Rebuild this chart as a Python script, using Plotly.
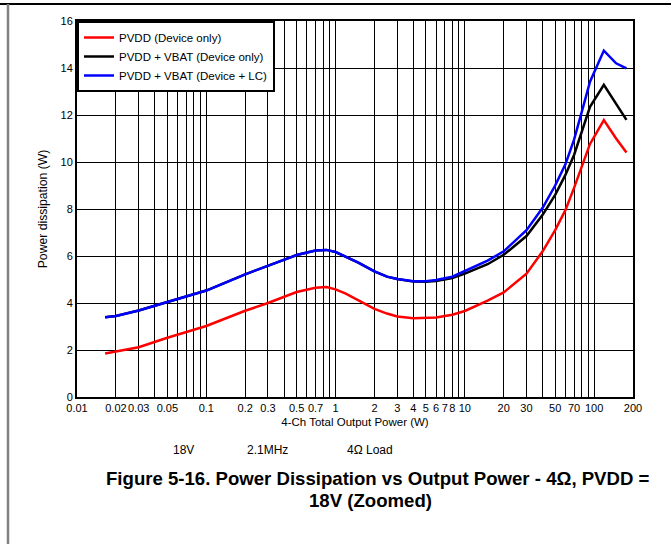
import numpy as np
import plotly.graph_objects as go

# ---- data ----
power_w = [0.0165, 0.02, 0.03, 0.05, 0.1, 0.2, 0.3, 0.5, 0.7, 0.85, 1, 1.2, 1.5, 2, 2.5, 3, 4, 5, 6, 8,
           10, 15, 20, 30, 40, 50, 60, 70, 80, 93, 119, 148, 178]

pvdd_dev = [1.85, 1.93, 2.12, 2.52, 3.02, 3.67, 4.0, 4.47, 4.65, 4.68, 4.58, 4.4, 4.12, 3.75, 3.55, 3.43, 3.35, 3.35, 3.38, 3.5,
            3.66, 4.1, 4.45, 5.25, 6.2, 7.1, 7.95, 8.9, 9.75, 10.77, 11.78, 11.0, 10.4]

pvdd_vbat_dev = [3.39, 3.45, 3.68, 4.04, 4.53, 5.22, 5.57, 6.04, 6.23, 6.26, 6.17, 5.98, 5.72, 5.35, 5.12, 5.02, 4.92, 4.9, 4.94, 5.06,
                 5.25, 5.65, 6.05, 6.85, 7.75, 8.6, 9.45, 10.3, 11.3, 12.35, 13.28, 12.45, 11.79]

pvdd_vbat_lc = [3.39, 3.45, 3.68, 4.04, 4.53, 5.22, 5.57, 6.04, 6.23, 6.26, 6.17, 5.98, 5.72, 5.35, 5.12, 5.02, 4.93, 4.93, 4.98, 5.12,
                5.35, 5.8, 6.2, 7.1, 8.05, 9.0, 9.9, 10.95, 12.1, 13.42, 14.74, 14.2, 13.98]

series_names = ["PVDD (Device only)", "PVDD + VBAT (Device only)", "PVDD + VBAT (Device + LC)"]
series_colors = ["#FF0000", "#000000", "#0000FF"]

x_tick_vals = [0.01, 0.02, 0.03, 0.05, 0.1, 0.2, 0.3, 0.5, 0.7, 1, 2, 3, 4, 5, 6, 7, 8, 10, 20, 30, 50, 70, 100, 200]
x_tick_text = ["0.01", "0.02", "0.03", "0.05", "0.1", "0.2", "0.3", "0.5", "0.7", "1", "2", "3", "4", "5", "6", "7", "8",
               "10", "20", "30", "50", "70", "100", "200"]
x_minor_vals = [m * 10.0 ** d for d in range(-2, 3) for m in range(1, 10) if m * 10.0 ** d <= 200]
y_tick_vals = [0, 2, 4, 6, 8, 10, 12, 14, 16]

FONT = "Arial, 'Liberation Sans', sans-serif"

fig = go.Figure()
for name, color, ys in zip(series_names, series_colors, [pvdd_dev, pvdd_vbat_dev, pvdd_vbat_lc]):
    fig.add_trace(go.Scatter(x=power_w, y=ys, mode="lines", name=name,
                             line=dict(color=color, width=2.5, shape="linear")))

fig.update_layout(
    width=671, height=544,
    margin=dict(l=77, r=38, t=21, b=147),
    paper_bgcolor="white", plot_bgcolor="white",
    font=dict(family=FONT, size=11, color="black"),
    showlegend=True,
    legend=dict(x=0, y=1, xanchor="left", yanchor="top", bgcolor="white",
                bordercolor="black", borderwidth=2, font=dict(size=11.5),
                itemwidth=30, tracegroupgap=0),
    xaxis=dict(type="log", range=[np.log10(0.01), np.log10(200)],
               tickmode="array", tickvals=x_tick_vals, ticktext=x_tick_text, tickangle=0,
               showgrid=True, gridcolor="#000000", gridwidth=1,
               minor=dict(tickmode="array", tickvals=x_minor_vals, showgrid=True,
                          gridcolor="#000000", gridwidth=1, ticks=""),
               showline=True, linecolor="black", linewidth=2, mirror=True,
               ticks="", zeroline=False,
               title=dict(text="4-Ch Total Output Power (W)", font=dict(size=11.5), standoff=5)),
    yaxis=dict(range=[0, 16], tickmode="array", tickvals=y_tick_vals,
               showgrid=True, gridcolor="#000000", gridwidth=1,
               showline=True, linecolor="black", linewidth=2, mirror=True,
               ticks="", zeroline=False,
               title=dict(text="Power dissipation (W)", font=dict(size=12.2), standoff=10)),
)

# caption texts below the chart
fig.add_annotation(text="18V", xref="paper", yref="paper", x=(183 - 77) / 556, y=(397 - 450) / 376,
                   showarrow=False, font=dict(size=12), xanchor="center", yanchor="middle")
fig.add_annotation(text="2.1MHz", xref="paper", yref="paper", x=(267 - 77) / 556, y=(397 - 450) / 376,
                   showarrow=False, font=dict(size=12), xanchor="center", yanchor="middle")
fig.add_annotation(text="4Ω Load", xref="paper", yref="paper", x=(370 - 77) / 556, y=(397 - 450) / 376,
                   showarrow=False, font=dict(size=12), xanchor="center", yanchor="middle")
fig.add_annotation(text="<b>Figure 5-16. Power Dissipation vs Output Power - 4Ω, PVDD =</b>",
                   xref="paper", yref="paper", x=(378 - 77) / 556, y=(397 - 478) / 376,
                   showarrow=False, font=dict(size=18.6), xanchor="center", yanchor="middle")
fig.add_annotation(text="<b>18V (Zoomed)</b>",
                   xref="paper", yref="paper", x=(370 - 77) / 556, y=(397 - 500) / 376,
                   showarrow=False, font=dict(size=18.6), xanchor="center", yanchor="middle")

# page decorations: top rule and left gray rule
fig.add_shape(type="line", xref="paper", yref="paper",
              x0=(0 - 77) / 556, x1=(671 - 77) / 556, y0=(397 - 4) / 376, y1=(397 - 4) / 376,
              line=dict(color="black", width=2))
fig.add_shape(type="line", xref="paper", yref="paper",
              x0=(8 - 77) / 556, x1=(8 - 77) / 556, y0=(397 - 4) / 376, y1=(397 - 544) / 376,
              line=dict(color="#808080", width=2.5))

fig.write_html("out.html")
